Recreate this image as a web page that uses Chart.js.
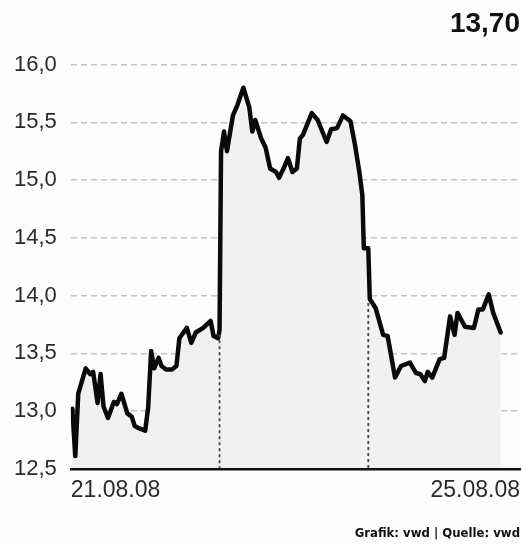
<!doctype html>
<html lang="de">

<head>
    <meta charset="utf-8">
    <meta name="viewport" content="width=device-width, initial-scale=1">
    <script src="https://cdn.jsdelivr.net/npm/chart.js@4.4.0/dist/chart.umd.min.js"></script>
    <title>Kursverlauf</title>
    <style>
        html, body { margin: 0; padding: 0; background: #fdfdfd; }
        #wrap { width: 522px; height: 549px; position: relative; }
    </style>
</head>

<body>
    <div id="wrap">
        <canvas id="myChart"></canvas>
    </div>

    <script type="text/javascript">
        // time in trading days since open of 21.08.08, price in EUR
        var times = [0.01, 0.03, 0.05, 0.10, 0.13, 0.15, 0.18, 0.20, 0.22, 0.25, 0.29, 0.31, 0.34, 0.38, 0.41, 0.43, 0.46, 0.50,
            0.52, 0.54, 0.56, 0.59, 0.61, 0.64, 0.68, 0.71, 0.73, 0.78, 0.81, 0.84, 0.89, 0.94, 0.96, 0.99, 1.00,
            1.01, 1.03, 1.05, 1.09, 1.12, 1.16, 1.20, 1.22, 1.24, 1.28, 1.31, 1.34, 1.38, 1.40, 1.43, 1.46, 1.49, 1.52,
            1.54, 1.56, 1.62, 1.66, 1.72, 1.75, 1.79, 1.83, 1.88, 1.91, 1.94, 1.96, 1.97, 2.00,
            2.01, 2.05, 2.10, 2.13, 2.18, 2.22, 2.28, 2.32, 2.35, 2.38, 2.40, 2.43, 2.48, 2.51, 2.55, 2.58, 2.60,
            2.65, 2.71, 2.74, 2.77, 2.81, 2.84, 2.89];
        var prices = [13.02, 12.61, 13.15, 13.37, 13.32, 13.34, 13.07, 13.32, 13.04, 12.94, 13.08, 13.06, 13.15, 12.98, 12.95, 12.87, 12.85, 12.83,
            13.03, 13.52, 13.37, 13.46, 13.39, 13.36, 13.36, 13.39, 13.63, 13.72, 13.59, 13.68, 13.72, 13.78, 13.65, 13.63, 13.70,
            15.25, 15.42, 15.25, 15.56, 15.65, 15.80, 15.63, 15.42, 15.52, 15.36, 15.28, 15.10, 15.07, 15.02, 15.10, 15.19, 15.07, 15.10,
            15.36, 15.39, 15.58, 15.52, 15.33, 15.44, 15.45, 15.56, 15.51, 15.31, 15.07, 14.87, 14.41, 14.41,
            13.97, 13.89, 13.66, 13.65, 13.29, 13.39, 13.42, 13.33, 13.32, 13.26, 13.34, 13.29, 13.45, 13.46, 13.82, 13.66, 13.85,
            13.73, 13.72, 13.88, 13.88, 14.01, 13.85, 13.68];

        var dayBreaks = [1.0, 2.0];
        var xLabels = ['21.08.08', '25.08.08'];
        var xRange = [0, 3.02];
        var yTicks = [12.5, 13.0, 13.5, 14.0, 14.5, 15.0, 15.5, 16.0];
        var lastPrice = '13,70';
        var footer = 'Grafik: vwd | Quelle: vwd';

        var points = times.map((t, i) => ({ x: t, y: prices[i] }));

        // dashed day separators from under the line down to the axis
        const dayLines = {
            id: 'dayLines',
            afterDatasetsDraw(chart) {
                var ctx = chart.ctx;
                var xs = chart.scales.x;
                var ys = chart.scales.y;
                ctx.save();
                ctx.strokeStyle = '#444';
                ctx.lineWidth = 1.8;
                ctx.setLineDash([3, 3]);
                dayBreaks.forEach((b) => {
                    var i = times.findIndex((t) => t > b);
                    var v = Math.min(prices[i - 1], prices[i]);
                    var px = xs.getPixelForValue(b);
                    ctx.beginPath();
                    ctx.moveTo(px, ys.getPixelForValue(v) + 4);
                    ctx.lineTo(px, ys.getPixelForValue(yTicks[0]));
                    ctx.stroke();
                });
                ctx.restore();
            }
        };

        var ctx = document.getElementById('myChart');
        var chart = new Chart(ctx, {
            type: 'line',
            data: {
                datasets: [{
                    data: points,
                    borderColor: '#0a0a0a',
                    borderWidth: 4.5,
                    backgroundColor: '#f1f1f1',
                    fill: 'start',
                    pointRadius: 0,
                    tension: 0,
                    borderJoinStyle: 'round',
                    borderCapStyle: 'round',
                }]
            },
            options: {
                responsive: true,
                maintainAspectRatio: false,
                animation: false,
                layout: {
                    padding: { left: 0, right: 2, top: 4, bottom: 8 }
                },
                plugins: {
                    legend: { display: false },
                    tooltip: { enabled: false },
                    title: {
                        display: true,
                        text: lastPrice,
                        align: 'end',
                        color: '#111',
                        font: { family: 'Liberation Sans', size: 28, weight: 'bold' },
                        padding: { top: 3, bottom: 24 }
                    },
                    subtitle: {
                        display: true,
                        text: footer,
                        position: 'bottom',
                        align: 'end',
                        color: '#111',
                        font: { family: "'DejaVu Sans Condensed', 'Liberation Sans', sans-serif", size: 13, weight: 'bold' },
                        padding: { top: 21, bottom: 0 }
                    }
                },
                scales: {
                    x: {
                        type: 'linear',
                        min: xRange[0],
                        max: xRange[1],
                        afterBuildTicks: (axis) => {
                            axis.ticks = xRange.map((v) => ({ value: v }));
                        },
                        grid: { display: false },
                        border: { display: true, color: '#111', width: 2.5, z: 1 },
                        ticks: {
                            align: 'inner',
                            maxRotation: 0,
                            autoSkip: false,
                            padding: 0,
                            color: '#2a2a2a',
                            font: { family: 'Liberation Sans', size: 23 },
                            callback: (v, i) => xLabels[i]
                        }
                    },
                    y: {
                        min: yTicks[0],
                        max: yTicks[yTicks.length - 1],
                        afterBuildTicks: (axis) => {
                            axis.ticks = yTicks.map((v) => ({ value: v }));
                        },
                        grid: { color: '#c4c4c4', lineWidth: 1.5, drawTicks: false },
                        border: { display: false, dash: [6, 4] },
                        ticks: {
                            padding: 14,
                            color: '#2a2a2a',
                            font: { family: 'Liberation Sans', size: 22 },
                            callback: (v) => v.toFixed(1).replace('.', ',')
                        }
                    }
                }
            },
            plugins: [dayLines]
        });
    </script>
</body>

</html>
